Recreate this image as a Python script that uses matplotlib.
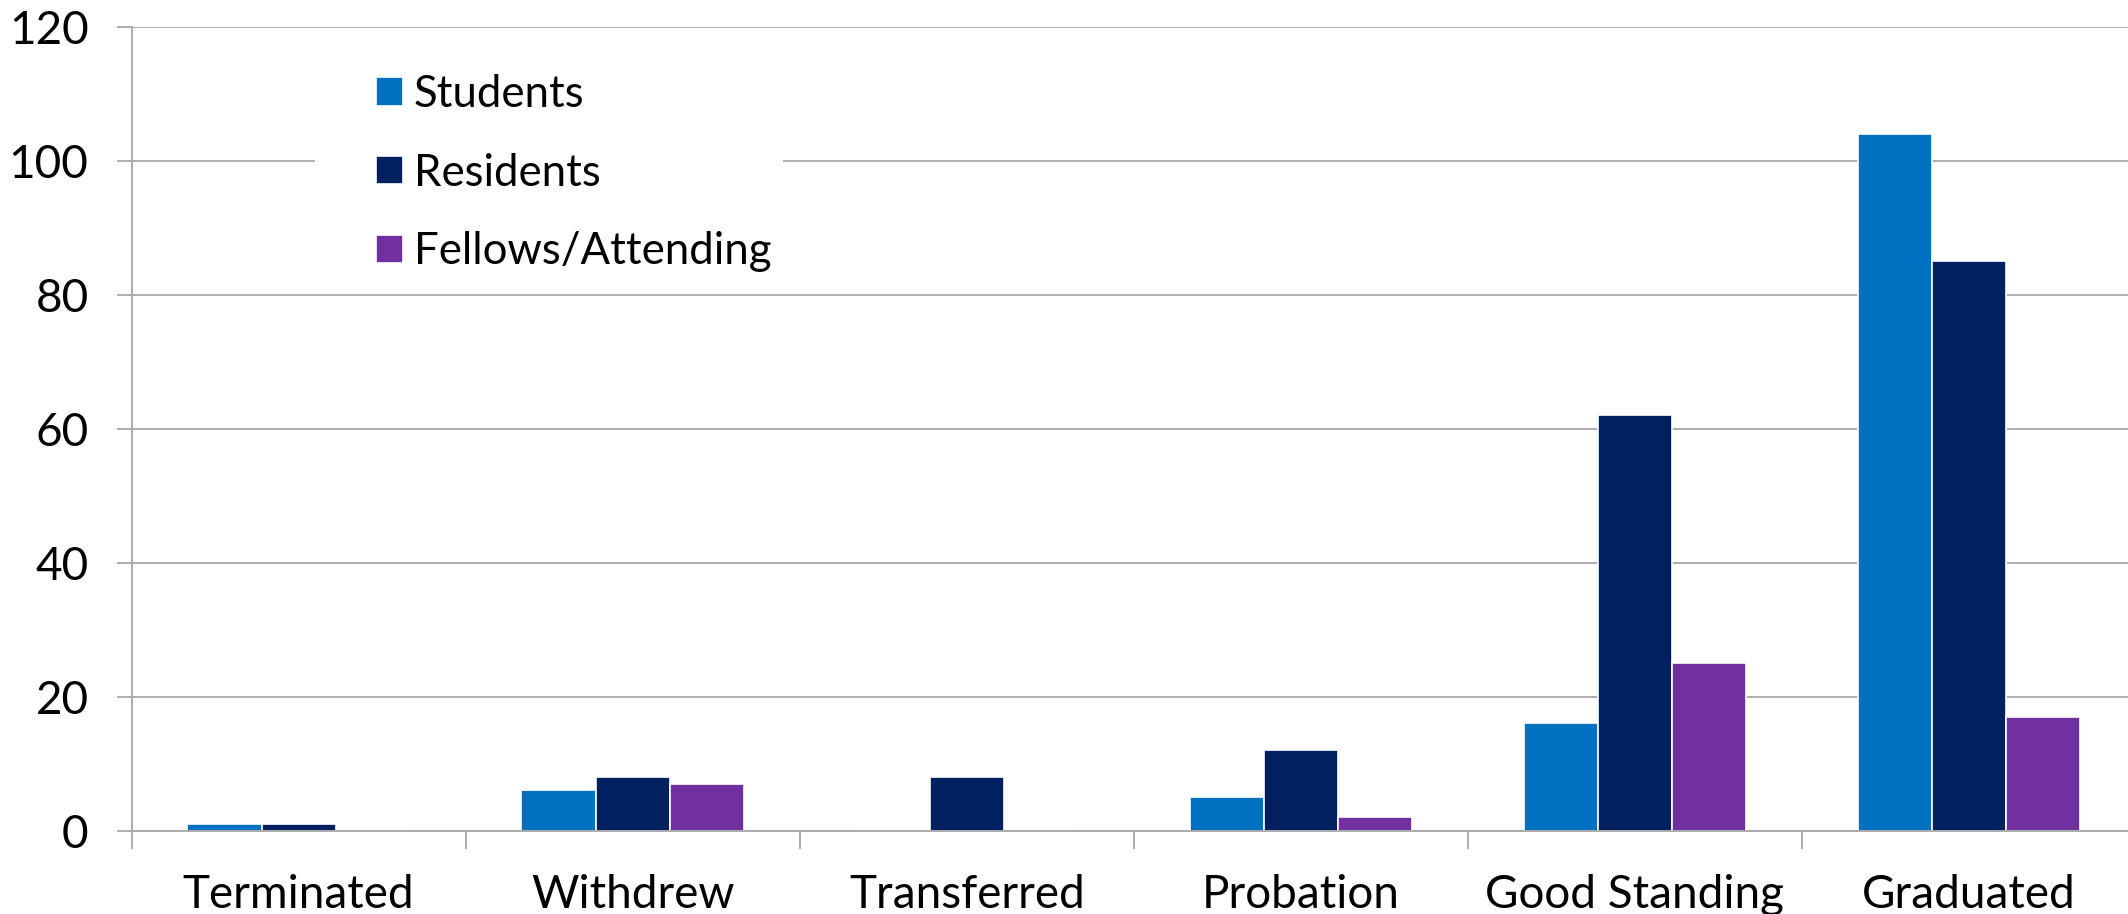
import matplotlib
matplotlib.use("Agg")
import matplotlib.pyplot as plt
from matplotlib.patches import Rectangle
import numpy as np

categories = ["Terminated", "Withdrew", "Transferred", "Probation", "Good Standing", "Graduated"]
series_names = ["Students", "Residents", "Fellows/Attending"]
students = [1, 6, 0, 5, 16, 104]
residents = [1, 8, 8, 12, 62, 85]
fellows = [0, 7, 0, 2, 25, 17]
y_ticks = [0, 20, 40, 60, 80, 100, 120]

colors = ["#0070C0", "#002060", "#7030A0"]
grid_color = "#A6A6A6"

plt.rcParams["font.family"] = ["Lato", "DejaVu Sans"]

W, H = 2128, 914
fig = plt.figure(figsize=(W / 100, H / 100), dpi=100)
ax = fig.add_axes([131.6 / W, 83.4 / H, (2136 - 131.6) / W, (887 - 83.4) / H])

x = np.arange(len(categories))
bar_w = 0.222
for i, (vals, name) in enumerate(zip([students, residents, fellows], series_names)):
    ax.bar(x + (i - 1) * bar_w, vals, width=bar_w, color=colors[i],
           edgecolor="white", linewidth=1.2, label=name, zorder=3)

ax.set_xlim(-0.5, len(categories) - 0.5)
ax.set_ylim(0, 120)
ax.set_yticks(y_ticks)
ax.yaxis.grid(True, color=grid_color, linewidth=1.3, zorder=0)

# category ticks at group boundaries, labels at group centres
ax.set_xticks(np.arange(len(categories) + 1) - 0.5)
ax.set_xticklabels([])
ax.set_xticks(x, minor=True)
ax.set_xticklabels(categories, minor=True)
ax.tick_params(axis="x", which="major", length=13, width=1.3, color=grid_color, direction="out")
ax.tick_params(axis="x", which="minor", length=0, pad=31, labelsize=33)
ax.tick_params(axis="y", length=11, width=1.3, color=grid_color, pad=20, labelsize=33)

for side in ["top", "right"]:
    ax.spines[side].set_visible(False)
for side in ["left", "bottom"]:
    ax.spines[side].set_color(grid_color)
    ax.spines[side].set_linewidth(1.3)
ax.spines["bottom"].set_zorder(4)

# white backing behind the legend block
ax.add_patch(Rectangle((315 / W, (H - 290) / H), (783 - 315) / W, 250 / H,
                       transform=fig.transFigure, facecolor="white",
                       edgecolor="none", zorder=2, clip_on=False))

leg = ax.legend(loc="upper left", bbox_to_anchor=(376 / W, (H - 74) / H),
                bbox_transform=fig.transFigure, frameon=False,
                fontsize=31.5, handlelength=0.62, handleheight=0.62,
                handletextpad=0.25, labelspacing=0.86, borderpad=0,
                borderaxespad=0)
leg.set_zorder(5)

fig.savefig("out.png", dpi=100)
